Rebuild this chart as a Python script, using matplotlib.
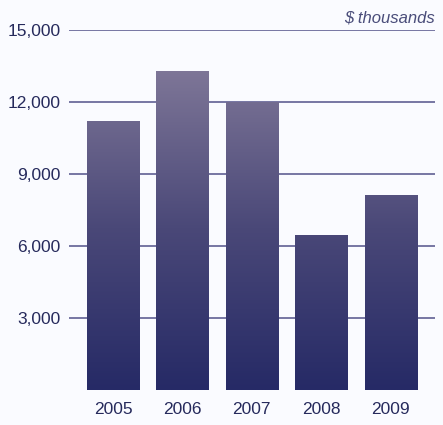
import numpy as np
import matplotlib.pyplot as plt
from matplotlib.colors import LinearSegmentedColormap

years = ['2005', '2006', '2007', '2008', '2009']
values = [11200, 13300, 12000, 6450, 8120]
yticks = [3000, 6000, 9000, 12000, 15000]

bg = '#fafbff'
text_col = '#262a5c'
grid_col = '#6c6c9c'
fam = ['Liberation Sans', 'DejaVu Sans']

fig = plt.figure(figsize=(4.43, 4.25), dpi=100, facecolor=bg)
ax = fig.add_axes([0.1558, 0.0833, 0.826, 0.846], facecolor=bg)

cmap = LinearSegmentedColormap.from_list('bars', ['#262a66', '#4a4878', '#7f7798'])
x = np.arange(len(years))

for yv in yticks:
    ax.axhline(yv, color=grid_col, lw=1.3, zorder=1)

bars = ax.bar(x, values, width=0.75, color='none', zorder=2)
grad = np.linspace(0, 1, 256).reshape(-1, 1)
for b in bars:
    im = ax.imshow(grad, cmap=cmap, origin='lower', aspect='auto',
                   extent=[b.get_x(), b.get_x() + b.get_width(), 0, 13500],
                   zorder=2)
    im.set_clip_path(b)

ax.set_xlim(-0.634, 4.64)
ax.set_ylim(0, 15000)
ax.set_xticks(x)
ax.set_xticklabels(years)
ax.set_yticks(yticks)
ax.set_yticklabels([f'{v:,}' for v in yticks])
ax.tick_params(length=0, labelsize=12.5, colors=text_col)
ax.tick_params(axis='x', pad=9)
ax.tick_params(axis='y', pad=6)
for lab in ax.get_xticklabels() + ax.get_yticklabels():
    lab.set_family(fam)
for s in ax.spines.values():
    s.set_visible(False)

ax.text(1.0, 1.012, '$ thousands', transform=ax.transAxes, ha='right', va='bottom',
        fontsize=12, style='italic', color='#4a4d7a', family=fam)

fig.savefig('out.png', dpi=100, facecolor=bg)
